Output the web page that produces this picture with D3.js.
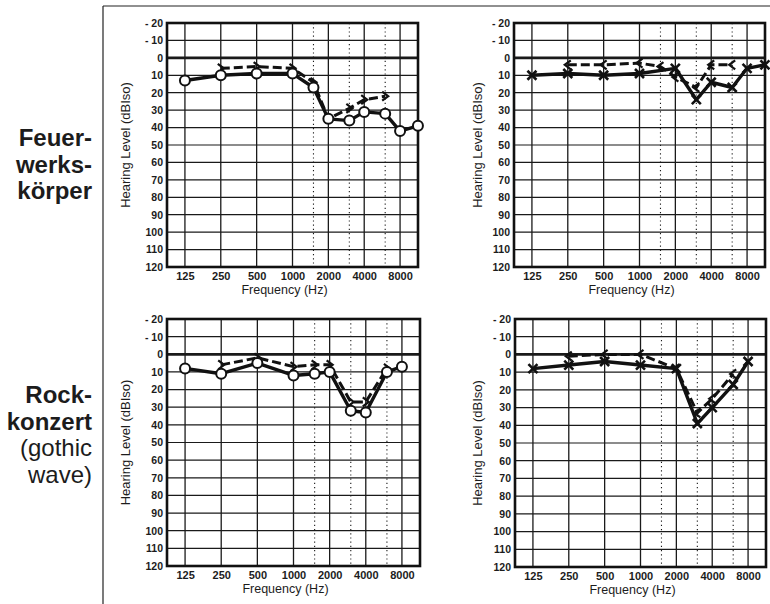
<!DOCTYPE html>
<html>
<head>
<meta charset="utf-8">
<script src="https://cdn.jsdelivr.net/npm/d3@7"></script>
<style>
  body { margin: 0; background: #fff; }
  svg text { font-family: "Liberation Sans", Arial, Helvetica, sans-serif; fill: #1c1c1c; }
</style>
</head>
<body>
<div id="chart"></div>
<script>
// tick values
const dbTicks = [-20, -10, 0, 10, 20, 30, 40, 50, 60, 70, 80, 90, 100, 110, 120];
const freqTicks = [125, 250, 500, 1000, 2000, 4000, 8000];
const halfOctaves = [1500, 3000, 6000];

// Feuerwerkskörper - rechtes Ohr (O = Luftleitung, > = Knochenleitung)
const fwRightFreq = [125, 250, 500, 1000, 1500, 2000, 3000, 4000, 6000, 8000, 11300];
const fwRightAir = [13, 10, 9, 9, 17, 35, 36, 31, 32, 42, 39];
const fwRightBoneFreq = [250, 500, 1000, 1500, 2000, 3000, 4000, 6000];
const fwRightBone = [6, 5, 6, 14, 35, 29, 24, 22];

// Feuerwerkskörper - linkes Ohr (X = Luftleitung, < = Knochenleitung)
const fwLeftFreq = [125, 250, 500, 1000, 2000, 3000, 4000, 6000, 8000, 11300];
const fwLeftAir = [10, 9, 10, 9, 6, 24, 14, 17, 6, 4];
const fwLeftBoneFreq = [250, 500, 1000, 1500, 2000, 3000, 4000, 6000];
const fwLeftBone = [4, 4, 3, 5, 11, 17, 4, 4];

// Rockkonzert - rechtes Ohr
const rkRightFreq = [125, 250, 500, 1000, 1500, 2000, 3000, 4000, 6000, 8000];
const rkRightAir = [8, 11, 5, 12, 11, 10, 32, 33, 10, 7];
const rkRightBoneFreq = [250, 500, 1000, 1500, 2000, 3000, 4000, 6000];
const rkRightBone = [6, 2, 7, 6, 6, 27, 27, 8];

// Rockkonzert - linkes Ohr
const rkLeftFreq = [125, 250, 500, 1000, 2000, 3000, 4000, 6000, 8000];
const rkLeftAir = [8, 6, 4, 6, 8, 39, 30, 17, 4];
const rkLeftBoneFreq = [250, 500, 1000, 2000, 3000, 4000, 6000];
const rkLeftBone = [1, 0, 0, 8, 33, 25, 11];

const w = 770, h = 604;

const svg = d3.select('#chart')
  .append('svg')
  .attr('width', w)
  .attr('height', h);

// frame lines of the page
svg.append('line').attr('x1', 103).attr('x2', w).attr('y1', 6).attr('y2', 6)
  .attr('stroke', '#222').attr('stroke-width', 1.2);
svg.append('line').attr('x1', 103).attr('x2', 103).attr('y1', 6).attr('y2', h)
  .attr('stroke', '#222').attr('stroke-width', 1.2);

// row labels
const rowLabel = (lines, y0) => {
  const t = svg.append('text').attr('text-anchor', 'end').style('font-size', '24px');
  lines.forEach((l, i) => {
    t.append('tspan').attr('x', 92).attr('y', y0 + i * 26.5)
      .style('font-weight', l.bold ? 'bold' : 'normal').text(l.text);
  });
};
rowLabel([{text: 'Feuer-', bold: true}, {text: 'werks-', bold: true}, {text: 'körper', bold: true}], 146);
rowLabel([{text: 'Rock-', bold: true}, {text: 'konzert', bold: true}, {text: '(gothic', bold: false}, {text: 'wave)', bold: false}], 403);

const panels = [
  {x0: 167, x1: 418, y0: 23, y1: 267, labelX: 125, ear: 'right', freq: fwRightFreq, air: fwRightAir, boneFreq: fwRightBoneFreq, bone: fwRightBone},
  {x0: 514, x1: 765, y0: 23, y1: 267, labelX: 477, ear: 'left', freq: fwLeftFreq, air: fwLeftAir, boneFreq: fwLeftBoneFreq, bone: fwLeftBone},
  {x0: 167, x1: 420, y0: 319, y1: 566, labelX: 125, ear: 'right', freq: rkRightFreq, air: rkRightAir, boneFreq: rkRightBoneFreq, bone: rkRightBone},
  {x0: 515, x1: 766, y0: 319, y1: 567, labelX: 477, ear: 'left', freq: rkLeftFreq, air: rkLeftAir, boneFreq: rkLeftBoneFreq, bone: rkLeftBone}
];

const renderPanel = p => {
  const xScale = d3.scaleLog().base(2)
    .domain([125 / Math.SQRT2, 8000 * Math.SQRT2])
    .range([p.x0, p.x1]);
  const yScale = d3.scaleLinear()
    .domain([-20, 120])
    .range([p.y0, p.y1]);

  const g = svg.append('g');

  // horizontal grid
  g.selectAll('.hgrid')
    .data(dbTicks.filter(d => d > -20 && d < 120))
    .enter().append('line')
    .attr('x1', p.x0).attr('x2', p.x1)
    .attr('y1', d => yScale(d)).attr('y2', d => yScale(d))
    .attr('stroke', '#1a1a1a')
    .attr('stroke-width', d => d === 0 ? 2.8 : 1.2);

  // octave lines
  g.selectAll('.vgrid')
    .data(freqTicks)
    .enter().append('line')
    .attr('x1', d => xScale(d)).attr('x2', d => xScale(d))
    .attr('y1', p.y0).attr('y2', p.y1)
    .attr('stroke', '#1a1a1a').attr('stroke-width', 1.3);

  // half octave dotted lines
  g.selectAll('.vdot')
    .data(halfOctaves)
    .enter().append('line')
    .attr('x1', d => xScale(d)).attr('x2', d => xScale(d))
    .attr('y1', p.y0).attr('y2', p.y1)
    .attr('stroke', '#1a1a1a').attr('stroke-width', 1.1)
    .attr('stroke-dasharray', '1.2,3');

  // border
  g.append('rect')
    .attr('x', p.x0).attr('y', p.y0)
    .attr('width', p.x1 - p.x0).attr('height', p.y1 - p.y0)
    .attr('fill', 'none').attr('stroke', '#111').attr('stroke-width', 2.6);

  // y axis
  const yAxis = d3.axisLeft(yScale)
    .tickValues(dbTicks)
    .tickSize(0)
    .tickPadding(4)
    .tickFormat(d => d < 0 ? '- ' + Math.abs(d) : d);
  const ya = g.append('g').attr('transform', 'translate(' + p.x0 + ',0)').call(yAxis);
  ya.select('.domain').remove();
  ya.selectAll('text').style('font-size', '10.5px').style('font-weight', 'bold')
    .style('font-family', '"Liberation Sans", Arial, sans-serif').attr('fill', '#1c1c1c');

  // x axis
  const xAxis = d3.axisBottom(xScale)
    .tickValues(freqTicks)
    .tickSize(0)
    .tickPadding(5)
    .tickFormat(d3.format('d'));
  const xa = g.append('g').attr('transform', 'translate(0,' + p.y1 + ')').call(xAxis);
  xa.select('.domain').remove();
  xa.selectAll('text').style('font-size', '11px').style('font-weight', 'bold')
    .style('font-family', '"Liberation Sans", Arial, sans-serif').attr('fill', '#1c1c1c');

  // axis titles
  g.append('text')
    .attr('x', (p.x0 + p.x1) / 2 - 8)
    .attr('y', p.y1 + 27)
    .attr('text-anchor', 'middle')
    .style('font-size', '12.5px')
    .text('Frequency (Hz)');
  g.append('text')
    .attr('transform', 'translate(' + p.labelX + ',' + (p.y0 + p.y1) / 2 + ') rotate(-90)')
    .attr('text-anchor', 'middle')
    .attr('dominant-baseline', 'central')
    .style('font-size', '13px')
    .text('Hearing Level (dBIso)');

  const airPts = p.freq.map((f, i) => [f, p.air[i]]);
  const bonePts = p.boneFreq.map((f, i) => [f, p.bone[i]]);
  const line = d3.line().x(d => xScale(d[0])).y(d => yScale(d[1]));

  // bone conduction (dashed)
  g.append('path')
    .attr('d', line(bonePts))
    .attr('fill', 'none').attr('stroke', '#111')
    .attr('stroke-width', 3)
    .attr('stroke-dasharray', '9,4');

  // air conduction (solid)
  g.append('path')
    .attr('d', line(airPts))
    .attr('fill', 'none').attr('stroke', '#111')
    .attr('stroke-width', 3.4)
    .attr('stroke-linejoin', 'round');

  // bone markers > or <
  const dir = p.ear === 'right' ? 1 : -1;
  g.selectAll('.bone')
    .data(bonePts)
    .enter().append('path')
    .attr('transform', d => 'translate(' + xScale(d[0]) + ',' + yScale(d[1]) + ')')
    .attr('d', 'M' + (-3 * dir) + ',-4.5L' + (3 * dir) + ',0L' + (-3 * dir) + ',4.5')
    .attr('fill', 'none').attr('stroke', '#111').attr('stroke-width', 2.2);

  // air markers
  if (p.ear === 'right') {
    g.selectAll('.air')
      .data(airPts)
      .enter().append('circle')
      .attr('cx', d => xScale(d[0]))
      .attr('cy', d => yScale(d[1]))
      .attr('r', 5)
      .attr('fill', '#fff').attr('stroke', '#111').attr('stroke-width', 2);
  } else {
    g.selectAll('.air')
      .data(airPts)
      .enter().append('path')
      .attr('transform', d => 'translate(' + xScale(d[0]) + ',' + yScale(d[1]) + ')')
      .attr('d', 'M-4.5,-4.5L4.5,4.5M-4.5,4.5L4.5,-4.5')
      .attr('stroke', '#111').attr('stroke-width', 2.6);
  }
};

panels.forEach(renderPanel);
</script>
</body>
</html>
